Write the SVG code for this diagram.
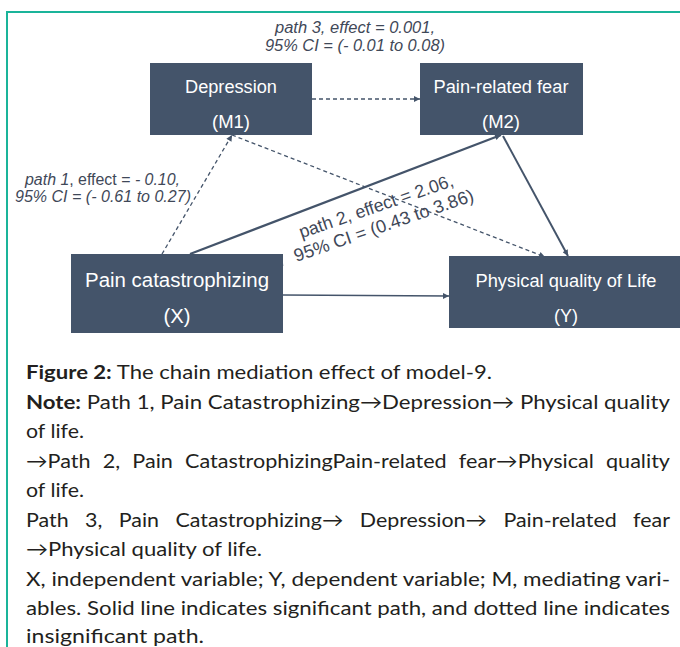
<svg xmlns="http://www.w3.org/2000/svg" width="680" height="647" viewBox="0 0 680 647">
<style>
.node{fill:#44546a}
.nt{font-family:"Liberation Sans",Arial,sans-serif;fill:#ffffff;text-anchor:middle}
.lbl{font-family:"Liberation Sans",Arial,sans-serif;fill:#3f4858;text-anchor:middle}
.it{font-style:italic}
.solid{stroke:#44546a;fill:none}
.dash{stroke:#44546a;fill:none;stroke-width:1.3;stroke-dasharray:4 3}
.cap{font-family:"Lato","Noto Sans",sans-serif;font-size:19.5px;fill:#231f20}
.b{font-weight:bold}
</style>
<defs>
<marker id="ah" viewBox="0 0 10 10" refX="10" refY="5" markerWidth="7" markerHeight="6" markerUnits="userSpaceOnUse" orient="auto">
<path d="M0,0 L10,5 L0,10 z" fill="#44546a"/>
</marker>
</defs>
<rect width="680" height="647" fill="#ffffff"/>
<path d="M7,647 V12 H680" fill="none" stroke="#1ab49a" stroke-width="2"/>

<g id="connectors">
<line class="dash" x1="312" y1="99" x2="420" y2="99" marker-end="url(#ah)"/>
<line class="dash" x1="162" y1="254" x2="232" y2="135" marker-end="url(#ah)"/>
<line class="dash" x1="232" y1="135" x2="545" y2="257" marker-end="url(#ah)"/>
<line class="solid" stroke-width="2.2" x1="190" y1="254" x2="501" y2="135" marker-end="url(#ah)"/>
<line class="solid" stroke-width="2" x1="503" y1="136" x2="568" y2="256" marker-end="url(#ah)"/>
<line class="solid" stroke-width="1.6" x1="283" y1="295" x2="449" y2="296" marker-end="url(#ah)"/>
<line x1="281" y1="254" x2="283" y2="266" stroke="#9aa3b0" stroke-width="1"/>
</g>

<g id="m1">
<rect class="node" x="150" y="63" width="162" height="72"/>
<text class="nt" x="231" y="93" font-size="17.5" textLength="92" lengthAdjust="spacingAndGlyphs">Depression</text>
<text class="nt" x="231" y="128" font-size="17.5" textLength="38" lengthAdjust="spacingAndGlyphs">(M1)</text>
</g>
<g id="m2">
<rect class="node" x="420" y="63" width="163" height="72"/>
<text class="nt" x="501" y="93" font-size="17.5" textLength="135" lengthAdjust="spacingAndGlyphs">Pain-related fear</text>
<text class="nt" x="501" y="128" font-size="17.5" textLength="38" lengthAdjust="spacingAndGlyphs">(M2)</text>
</g>
<g id="x">
<rect class="node" x="71" y="254" width="212" height="79"/>
<text class="nt" x="177" y="287" font-size="19.5" textLength="184" lengthAdjust="spacingAndGlyphs">Pain catastrophizing</text>
<text class="nt" x="177" y="323" font-size="19.5" textLength="27" lengthAdjust="spacingAndGlyphs">(X)</text>
</g>
<g id="y">
<rect class="node" x="449" y="256" width="231" height="72"/>
<text class="nt" x="566" y="287" font-size="17.5" textLength="181" lengthAdjust="spacingAndGlyphs">Physical quality of Life</text>
<text class="nt" x="566" y="322" font-size="17.5" textLength="24" lengthAdjust="spacingAndGlyphs">(Y)</text>
</g>

<g id="labels">
<text class="lbl it" x="355" y="33" font-size="16" textLength="160" lengthAdjust="spacingAndGlyphs">path 3, effect = 0.001,</text>
<text class="lbl it" x="355" y="51" font-size="16" textLength="180" lengthAdjust="spacingAndGlyphs">95% CI = (- 0.01 to 0.08)</text>
<text class="lbl" x="102.5" y="185" font-size="16" textLength="155" lengthAdjust="spacingAndGlyphs"><tspan class="it">path 1</tspan>, effect = <tspan class="it">- 0.10,</tspan></text>
<text class="lbl it" x="103" y="202" font-size="16" textLength="176" lengthAdjust="spacingAndGlyphs">95% CI = (- 0.61 to 0.27)</text>
<g transform="translate(378,212) rotate(-19)">
<text class="lbl" x="0" y="0" font-size="18" fill="#44546a" textLength="162" lengthAdjust="spacingAndGlyphs">path 2, effect = 2.06,</text>
<text class="lbl" x="1" y="20.7" font-size="18" fill="#44546a" textLength="189" lengthAdjust="spacingAndGlyphs">95% CI = (0.43 to 3.86)</text>
</g>
</g>

<g id="caption">
<text class="cap" x="26" y="379" textLength="466" lengthAdjust="spacingAndGlyphs"><tspan class="b">Figure 2:</tspan> The chain mediation effect of model-9.</text>
<text class="cap" x="26" y="408.5" textLength="644" lengthAdjust="spacingAndGlyphs"><tspan class="b">Note:</tspan> Path 1, Pain Catastrophizing→Depression→ Physical quality</text>
<text class="cap" x="26" y="438" textLength="58" lengthAdjust="spacingAndGlyphs">of life.</text>
<text class="cap" x="26" y="467.5" word-spacing="6" textLength="644" lengthAdjust="spacingAndGlyphs">→Path 2, Pain CatastrophizingPain-related fear→Physical quality</text>
<text class="cap" x="26" y="497" textLength="58" lengthAdjust="spacingAndGlyphs">of life.</text>
<text class="cap" x="26" y="526.5" word-spacing="10" textLength="644" lengthAdjust="spacingAndGlyphs">Path 3, Pain Catastrophizing→ Depression→ Pain-related fear</text>
<text class="cap" x="26" y="556" textLength="236" lengthAdjust="spacingAndGlyphs">→Physical quality of life.</text>
<text class="cap" x="26" y="585.5" textLength="644" lengthAdjust="spacingAndGlyphs">X, independent variable; Y, dependent variable; M, mediating vari-</text>
<text class="cap" x="26" y="615" textLength="644" lengthAdjust="spacingAndGlyphs">ables. Solid line indicates significant path, and dotted line indicates</text>
<text class="cap" x="26" y="643" textLength="178" lengthAdjust="spacingAndGlyphs">insignificant path.</text>
</g>
</svg>
